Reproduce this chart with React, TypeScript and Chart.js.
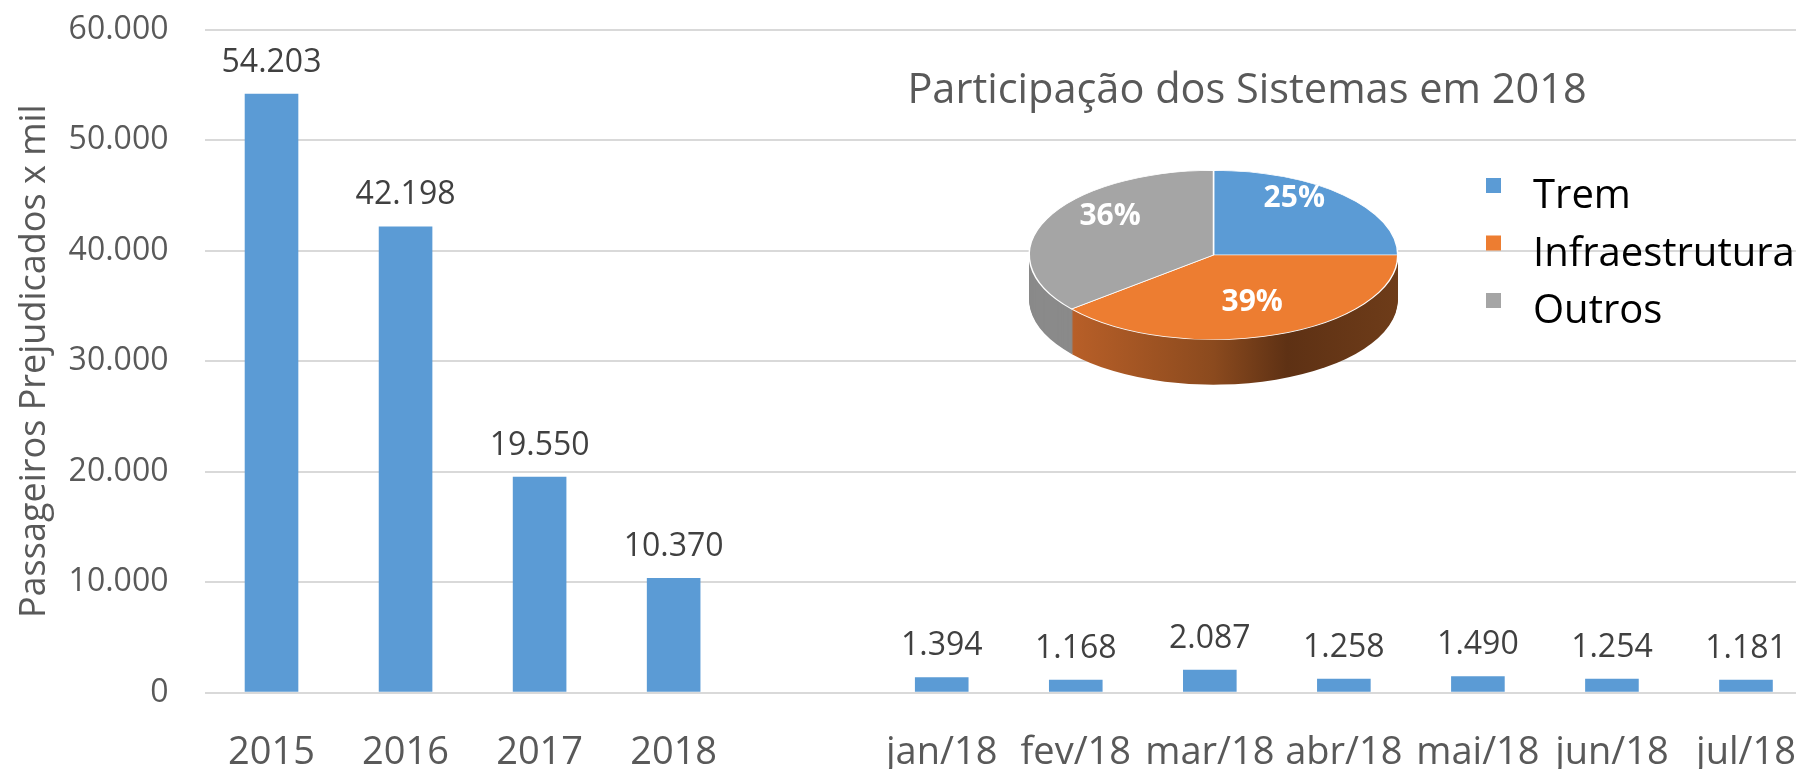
import React, { useEffect, useRef } from 'react';
import { Chart, registerables } from 'chart.js';

Chart.register(...registerables);

// ---------- data ----------
const categories = ['2015', '2016', '2017', '2018', '', 'jan/18', 'fev/18', 'mar/18', 'abr/18', 'mai/18', 'jun/18', 'jul/18'];
const passengers: (number | null)[] = [54203, 42198, 19550, 10370, null, 1394, 1168, 2087, 1258, 1490, 1254, 1181];
const yTickValues = [0, 10000, 20000, 30000, 40000, 50000, 60000];
const yAxisTitle = 'Passageiros Prejudicados x mil';

const pieTitle = 'Participação dos Sistemas em 2018';
const pieLabels = ['Trem', 'Infraestrutura', 'Outros'];
const pieShares = [25, 39, 36];

// ---------- styles ----------
const FONT = '"Open Sans", "Noto Sans", sans-serif';
const BAR_COLOR = '#5B9BD5';
const PIE_COLORS = ['#5B9BD5', '#ED7D31', '#A5A5A5'];
const AXIS_TEXT = '#595959';
const LABEL_TEXT = '#404040';
const GRID = '#D9D9D9';

const BAR_W = 1840;
const BAR_H = 769;
const PIE_LEFT = 880;
const PIE_TOP = 40;
const PIE_W = 960;
const PIE_H = 440;
const TILT = 85 / 185;
const DEPTH = 45;

function fmt(v: number): string {
  return String(Math.round(v)).replace(/\B(?=(\d{3})+(?!\d))/g, '.');
}

const barValueLabels = {
  id: 'barValueLabels',
  afterDatasetsDraw(chart: any) {
    const ctx = chart.ctx;
    const meta = chart.getDatasetMeta(0);
    ctx.save();
    ctx.font = `32px ${FONT}`;
    ctx.fillStyle = LABEL_TEXT;
    ctx.textAlign = 'center';
    ctx.textBaseline = 'alphabetic';
    meta.data.forEach((el: any, i: number) => {
      const v = passengers[i];
      if (v == null) return;
      ctx.fillText(fmt(v), el.x, el.y - 22);
    });
    ctx.restore();
  },
};

const tilt3d = {
  id: 'tilt3d',
  beforeDatasetsDraw(chart: any) {
    const ctx = chart.ctx;
    const arcs = chart.getDatasetMeta(0).data as any[];
    if (!arcs.length) return;
    const cx = arcs[0].x;
    const cy = arcs[0].y;
    const r = arcs[0].outerRadius;
    const grad = ctx.createLinearGradient(cx - r, 0, cx + r, 0);
    grad.addColorStop(0, '#C4672C');
    grad.addColorStop(0.08, '#BC6129');
    grad.addColorStop(0.5, '#8B4A1E');
    grad.addColorStop(0.7, '#5E3114');
    grad.addColorStop(1, '#6E3C19');
    const sideFills = ['#3F6F9C', grad, '#8A8A8A'];
    for (let d = DEPTH; d >= 1; d--) {
      ctx.save();
      ctx.translate(cx, cy + d);
      ctx.scale(1, TILT);
      ctx.translate(-cx, -cy);
      arcs.forEach((arc: any, i: number) => {
        const orig = arc.options;
        arc.options = { ...orig, backgroundColor: sideFills[i], borderColor: sideFills[i], borderWidth: 0 };
        arc.draw(ctx);
        arc.options = orig;
      });
      ctx.restore();
    }
    ctx.save();
    ctx.translate(cx, cy);
    ctx.scale(1, TILT);
    ctx.translate(-cx, -cy);
  },
  afterDatasetsDraw(chart: any) {
    const ctx = chart.ctx;
    const arcs = chart.getDatasetMeta(0).data as any[];
    if (!arcs.length) return;
    ctx.restore();
    const cx = arcs[0].x;
    const cy = arcs[0].y - 12;
    ctx.save();
    ctx.font = `bold 30px ${FONT}`;
    ctx.fillStyle = '#FFFFFF';
    ctx.textAlign = 'center';
    ctx.textBaseline = 'middle';
    arcs.forEach((arc: any, i: number) => {
      const mid = (arc.startAngle + arc.endAngle) / 2;
      const x = cx + Math.cos(mid) * arc.outerRadius * 0.62;
      const y = cy + Math.sin(mid) * arc.outerRadius * 0.75 * TILT;
      ctx.fillText(`${pieShares[i]}%`, x, y);
    });
    ctx.restore();
  },
  afterDraw(chart: any) {
    const ctx = chart.ctx;
    ctx.save();
    // title
    ctx.font = `41.5px ${FONT}`;
    ctx.fillStyle = AXIS_TEXT;
    ctx.textAlign = 'center';
    ctx.textBaseline = 'alphabetic';
    ctx.fillText(pieTitle, 1247 - PIE_LEFT, 103 - PIE_TOP);
    // legend
    ctx.font = `40px ${FONT}`;
    ctx.textAlign = 'left';
    const colors = chart.data.datasets[0].backgroundColor as string[];
    (chart.data.labels as string[]).forEach((lab, i) => {
      const base = 208 - PIE_TOP + i * 57.5;
      ctx.fillStyle = colors[i];
      ctx.fillRect(1486 - PIE_LEFT, base - 30, 15, 15);
      ctx.fillStyle = '#000000';
      ctx.fillText(lab, 1533 - PIE_LEFT, base);
    });
    ctx.restore();
  },
};

export default function App() {
  const barRef = useRef<HTMLCanvasElement | null>(null);
  const pieRef = useRef<HTMLCanvasElement | null>(null);

  useEffect(() => {
    if (!barRef.current || !pieRef.current) return;
    const plotLeft = 204.5;
    const plotRight = 1813;
    const plotTop = 29.7;
    const plotBottom = 692.7;

    const bar = new Chart(barRef.current, {
      type: 'bar',
      data: {
        labels: categories,
        datasets: [
          {
            data: passengers,
            backgroundColor: BAR_COLOR,
            barPercentage: 0.4,
            categoryPercentage: 1,
          },
        ],
      },
      options: {
        responsive: false,
        animation: false,
        layout: { padding: { left: 0, top: plotTop, right: BAR_W - plotRight, bottom: 0 } },
        plugins: {
          legend: { display: false },
          tooltip: { enabled: false },
          title: { display: false },
        },
        scales: {
          x: {
            grid: { display: false },
            border: { display: false },
            ticks: {
              color: AXIS_TEXT,
              font: { family: FONT, size: 38 },
              padding: 30,
              autoSkip: false,
              maxRotation: 0,
              minRotation: 0,
            },
            afterFit: (s: any) => {
              s.height = BAR_H - plotBottom;
              s.paddingLeft = 0;
              s.paddingRight = 0;
            },
          },
          y: {
            min: 0,
            max: 60000,
            afterBuildTicks: (s: any) => {
              s.ticks = yTickValues.map((v) => ({ value: v }));
            },
            ticks: {
              color: AXIS_TEXT,
              font: { family: FONT, size: 32 },
              padding: 36,
              callback: (v: any) => fmt(Number(v)),
            },
            grid: { color: GRID, lineWidth: 2, drawTicks: false },
            border: { display: false },
            title: {
              display: true,
              text: yAxisTitle,
              color: AXIS_TEXT,
              font: { family: FONT, size: 36 },
              padding: { top: 13, bottom: 0 },
            },
            afterFit: (s: any) => {
              s.width = plotLeft;
              s.paddingTop = 0;
              s.paddingBottom = 0;
            },
          },
        },
      },
      plugins: [barValueLabels],
    } as any);

    const pieCx = 1213.5 - PIE_LEFT;
    const pieCy = 255 - PIE_TOP;
    const R = 185;
    const pie = new Chart(pieRef.current, {
      type: 'pie',
      data: {
        labels: pieLabels,
        datasets: [
          {
            data: pieShares,
            backgroundColor: PIE_COLORS,
            borderColor: '#FFFFFF',
            borderWidth: 1.5,
            clip: false,
          },
        ],
      },
      options: {
        responsive: false,
        animation: false,
        layout: {
          padding: {
            left: pieCx - R,
            right: PIE_W - (pieCx + R),
            top: pieCy - R,
            bottom: PIE_H - (pieCy + R),
          },
        },
        plugins: {
          legend: { display: false },
          tooltip: { enabled: false },
          title: { display: false },
        },
      },
      plugins: [tilt3d],
    } as any);

    return () => {
      bar.destroy();
      pie.destroy();
    };
  }, []);

  return (
    <div
      style={{
        position: 'fixed',
        left: 0,
        top: 0,
        width: 1796,
        height: 769,
        overflow: 'hidden',
        background: '#FFFFFF',
      }}
    >
      <canvas
        ref={barRef}
        width={BAR_W}
        height={BAR_H}
        style={{ position: 'absolute', left: 0, top: 0, width: BAR_W, height: BAR_H }}
      />
      <canvas
        ref={pieRef}
        width={PIE_W}
        height={PIE_H}
        style={{ position: 'absolute', left: PIE_LEFT, top: PIE_TOP, width: PIE_W, height: PIE_H }}
      />
    </div>
  );
}
